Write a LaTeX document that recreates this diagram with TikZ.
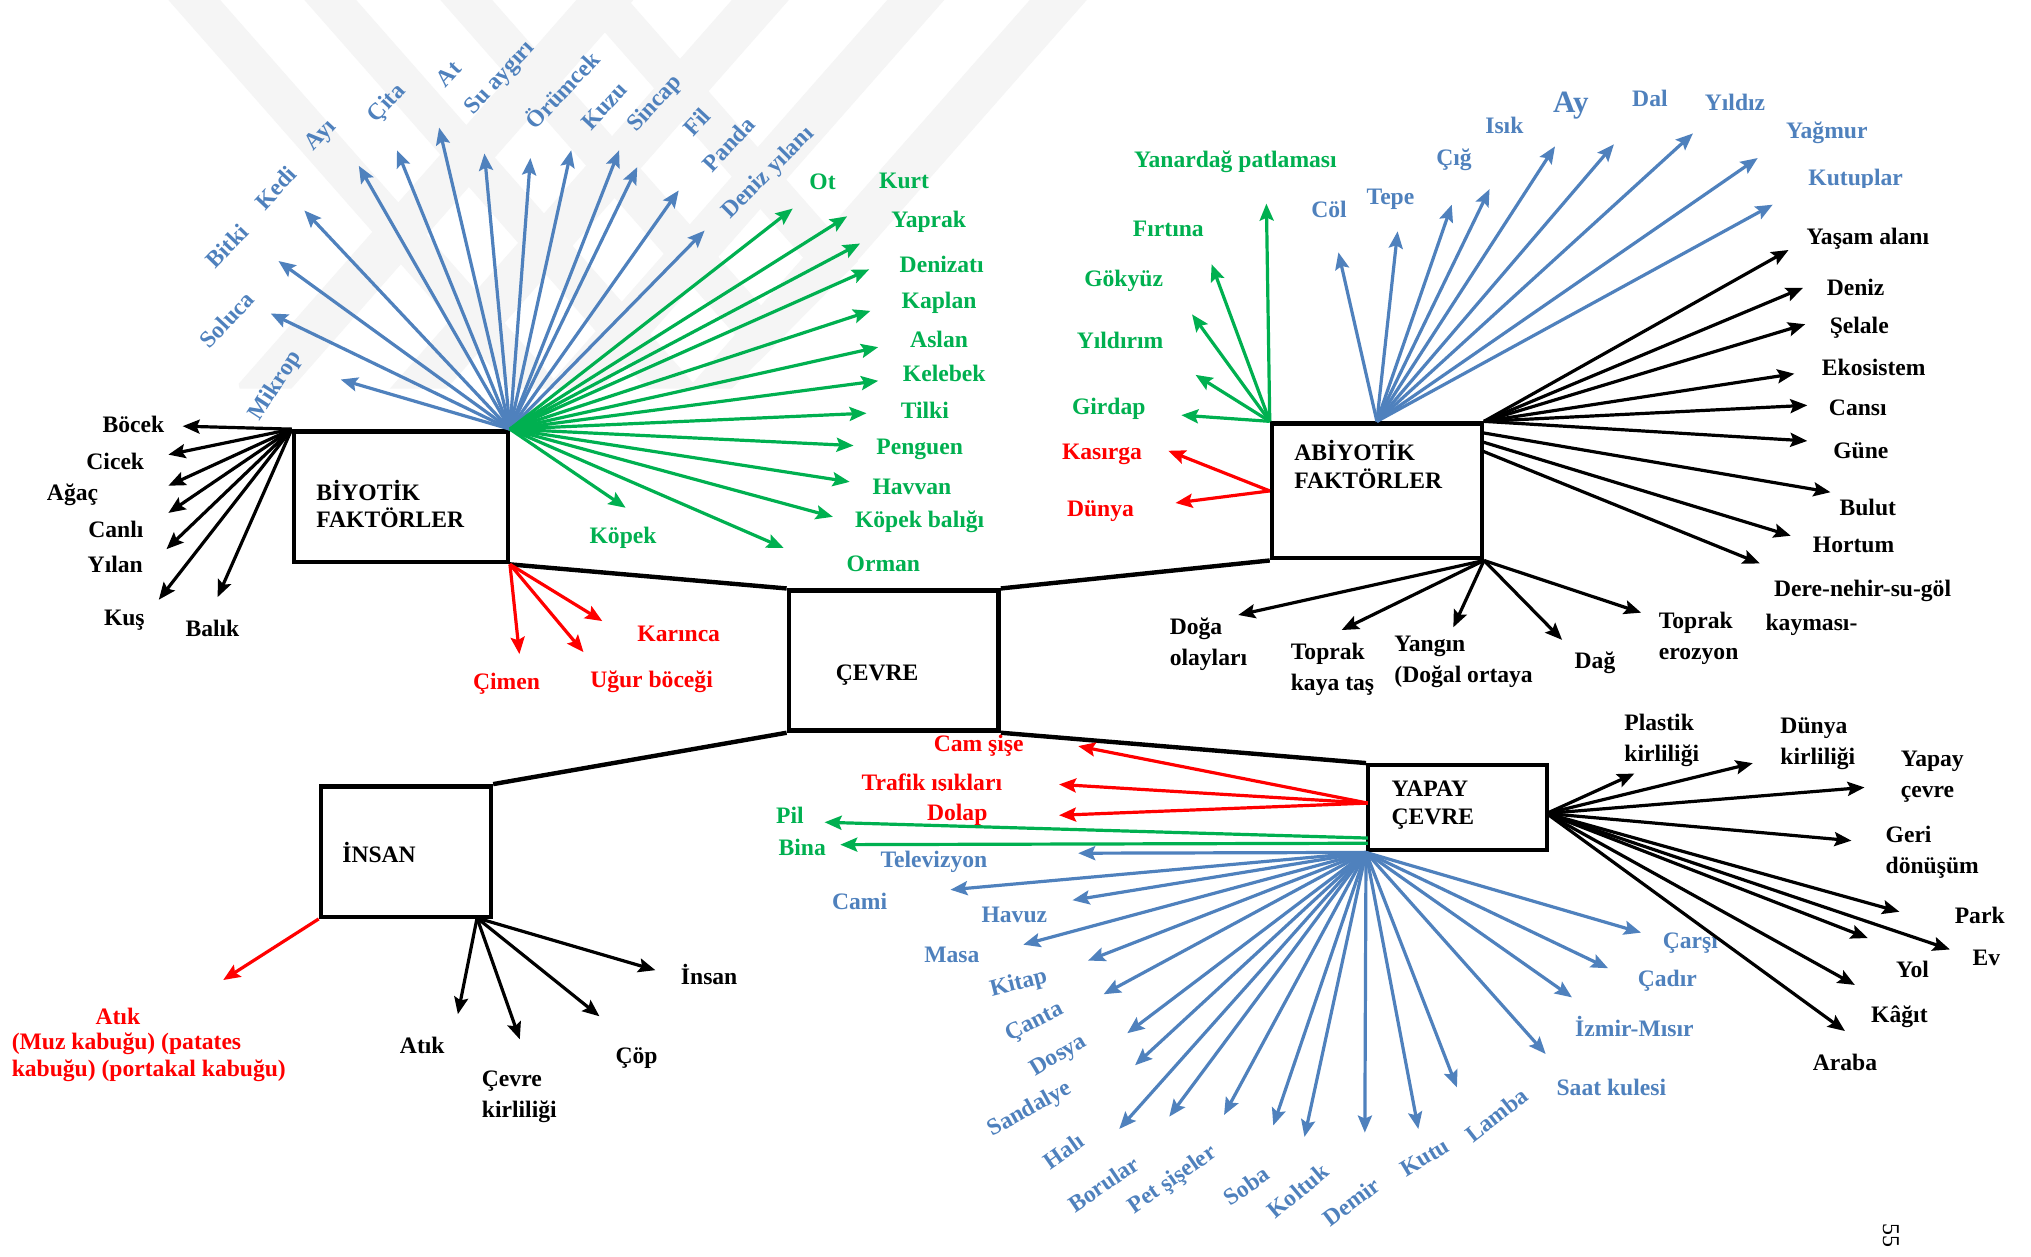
\documentclass[tikz,border=0pt]{standalone}
\usepackage{fontspec}
\setmainfont{Liberation Serif}
\usetikzlibrary{arrows.meta}
\definecolor{cblue}{HTML}{4F81BD}
\definecolor{cgreen}{HTML}{00B050}
\definecolor{cred}{HTML}{FF0000}
\newcommand\U{0.6477pt}
\newcommand\lblfont{\bfseries\fontsize{11.8}{15.5}\selectfont}
\newcommand\boxfont{\bfseries\fontsize{11.8}{13.8}\selectfont}
\tikzset{
  wm/.style={fill=gray!8},
  box/.style={draw=black, line width=2.2pt, inner sep=0pt},
  boxtxt/.style={font=\boxfont, align=left, inner sep=0pt, anchor=west},
  link/.style={draw=black, line width=2.2pt},
  arr/.style={line width=1.6pt, -{Stealth[length=8.5pt,width=7pt,inset=1.5pt]}},
  lbl/.style={font=\lblfont, inner sep=0.5pt},
  lbl2/.style={font=\lblfont, inner sep=0.5pt, align=left, anchor=west},
}
\begin{document}
\begin{tikzpicture}[x=0.6477pt, y=-0.6477pt]
\fill[white] (0,0) rectangle (1568,970);
\useasboundingbox (0,0) rectangle (1568,970);

% faint chevron watermark
\begin{scope}
  \clip (125,0) -- (862,0) -- (565,300) -- (185,300) -- cycle;
  \foreach \s in {130,235,340,445}
    \fill[wm] (\s,0) -- ++(40,0) -- ++(264,300) -- ++(-40,0) -- cycle;
  \foreach \s in {445,565,685,795}
    \fill[wm] (\s,0) -- ++(44,0) -- ++(-264,300) -- ++(-44,0) -- cycle;
\end{scope}

% main boxes
\node[box, minimum width=165*\U, minimum height=101*\U] (bio) at (309.5,383.5) {};
\node[boxtxt] (biot) at (244,389) {BİYOTİK\\FAKTÖRLER};
\node[box, minimum width=162*\U, minimum height=108*\U] (cev) at (690,510) {};
\node[boxtxt] (cevt) at (645,521) {ÇEVRE};
\node[box, minimum width=162*\U, minimum height=104*\U] (abio) at (1063,379) {};
\node[boxtxt] (abiot) at (999,358.5) {ABİYOTİK\\FAKTÖRLER};
\node[box, minimum width=138*\U, minimum height=65.6*\U] (yap) at (1125.3,623.6) {};
\node[boxtxt] (yapt) at (1074,621.5) {YAPAY\\ÇEVRE};
\node[box, minimum width=131.3*\U, minimum height=100.7*\U] (ins) at (313.4,657.4) {};
\node[boxtxt] (inst) at (264,658) {İNSAN};

% links between the boxes
\draw[link] (bio.south east) -- (cev.north west);
\draw[link] (cev.north east) -- (abio.south west);
\draw[link] (cev.south east) -- (yap.north west);
\draw[link] (cev.south west) -- (ins.north east);

% ---------- BİYOTİK FAKTÖRLER ----------
\foreach \tx/\ty/\lx/\ly/\t [count=\i] in {
  141/329/103/328/Böcek, 130/351/89/356/Cicek, 130/375/56/382/Ağaç,
  130/396/89.5/409/Canlı, 128.5/424/89/436/Yılan, 122.6/463/96/479/Kuş,
  168/461/164/485/Balık}{
  \coordinate (bk\i) at (\tx,\ty);
  \draw[arr, black] (bio.north west) -- (bk\i);
  \node[lbl] (bkl\i) at (\lx,\ly) {\t};
}
\foreach \tx/\ty/\lx/\ly/\r/\t [count=\i] in {
  263/293/213/298/57/Mikrop, 209/242/175/247/47/Soluca, 215/201.5/175/190/46/Bitki,
  235/162.5/213/145/47/Kedi, 277/128/248/105/47/Ayı, 306.5/116/299/80/47/Çita,
  339/98.5/346.5/57/47/At, 374/118.5/386.3/60.5/47/Su aygırı,
  409.5/122/433.5/69/47/Örümcek, 441/116/466.6/81.8/47/Kuzu,
  478/116/505.8/80.3/47/Sincap, 492/129/538/94/47/Fil,
  524/147/562.6/111.2/47/Panda, 544/178/593.3/133.8/45/Deniz yılanı}{
  \coordinate (bb\i) at (\tx,\ty);
  \draw[arr, cblue] (bio.north east) -- (bb\i);
  \node[lbl, text=cblue, rotate=\r] (bbl\i) at (\lx,\ly) {\t};
}
\foreach \tx/\ty/\lx/\ly/\t [count=\i] in {
  612/161/635/140/Ot, 654/167/698/140/Kurt, 664/188/717/171/Yaprak,
  671/208/727/204/Denizatı, 672/240/725/234/Kaplan, 678/268/725/262/Aslan,
  678/294/729/288/Kelebek, 669/319/714/317/Tilki, 659/344/710/347/Penguen,
  656/372/704/376/Havvan, 643/399/710/403/Köpek balığı, 605/423/682/435/Orman,
  483/392/481/415/Köpek}{
  \coordinate (bg\i) at (\tx,\ty);
  \draw[arr, cgreen] (bio.north east) -- (bg\i);
  \node[lbl, text=cgreen] (bgl\i) at (\lx,\ly) {\t};
}
\foreach \tx/\ty/\lx/\ly/\t [count=\i] in {
  401/505/391/528/Çimen, 450.5/503.5/503/526/Uğur böceği, 465/479.5/524/489/Karınca}{
  \coordinate (br\i) at (\tx,\ty);
  \draw[arr, cred] (bio.south east) -- (br\i);
  \node[lbl, text=cred] (brl\i) at (\lx,\ly) {\t};
}

% ---------- ABİYOTİK FAKTÖRLER ----------
\foreach \tx/\ty/\lx/\ly/\t [count=\i] in {
  977.7/157.2/953.8/125/Yanardağ patlaması, 935.4/204/902/176.4/Fırtına,
  920.3/242.7/867.5/216.7/Gökyüz, 923/289.4/864.7/262.5/Yıldırım,
  912/320.5/856/315.9/Girdap}{
  \coordinate (ag\i) at (\tx,\ty);
  \draw[arr, cgreen] (abio.north west) -- (ag\i);
  \node[lbl, text=cgreen] (agl\i) at (\lx,\ly) {\t};
}
\foreach \tx/\ty/\lx/\ly/\t [count=\i] in {
  902/348/850.8/350.5/Kasırga, 907.5/388.3/849.6/394.4/Dünya}{
  \coordinate (ar\i) at (\tx,\ty);
  \draw[arr, cred] (abio.west) -- (ar\i);
  \node[lbl, text=cred] (arl\i) at (\lx,\ly) {\t};
}
\foreach \tx/\ty [count=\i] in {
  1033.3/194.8, 1079/178.6, 1120.8/158, 1150/146, 1200.5/113,
  1246/111.4, 1307/103, 1357/122, 1368.6/158}{
  \coordinate (ab\i) at (\tx,\ty);
  \draw[arr, cblue] (abio.north) -- (ab\i);
}
\begin{scope}
  \clip (990,140) rectangle (1039.5,185);
  \node[lbl, text=cblue] (abl1) at (1026,161.8) {Cöl};
\end{scope}
\foreach \lx/\ly/\t [count=\i from 2] in {
  1073.5/154/Tepe, 1122.6/123.6/Çığ, 1161.4/97/Isık,
  1273.8/75.7/Dal, 1339.5/78.7/Yıldız, 1410.4/102.3/Yağmur}{
  \node[lbl, text=cblue] (abl\i) at (\lx,\ly) {\t};
}
\node[lbl, text=cblue, font=\bfseries\fontsize{15.5}{18}\selectfont] (ablay) at (1212.7,81.8) {Ay};
\begin{scope}
  \clip (1380,120) rectangle (1490,144.5);
  \node[lbl, text=cblue] (ablku) at (1432.6,138.9) {Kutuplar};
\end{scope}

\coordinate (abE1) at (1144,334);
\coordinate (abE2) at (1144,341);
\coordinate (abE3) at (1144,348);
\foreach \tx/\ty/\lx/\ly/\t [count=\i] in {
  1380.8/193/1442/184.6/Yaşam alanı, 1392/222.2/1432.6/222.2/Deniz,
  1393.7/250.3/1435.4/253.4/Şelale, 1385.3/288.5/1446.6/283.9/Ekosistem,
  1395.3/312.9/1434.3/315/Cansı, 1395.3/340.4/1436.6/348/Güne}{
  \coordinate (ak\i) at (\tx,\ty);
  \draw[arr, black] (abio.north east) -- (ak\i);
  \node[lbl] (akl\i) at (\lx,\ly) {\t};
}
\coordinate (ak7) at (1413.2,380);
\coordinate (ak8) at (1382.5,413.6);
\coordinate (ak9) at (1358.6,435);
\draw[arr, black] (abE1) -- (ak7);
\draw[arr, black] (abE2) -- (ak8);
\draw[arr, black] (abE3) -- (ak9);
\node[lbl] (akl7) at (1442,391.4) {Bulut};
\node[lbl] (akl8) at (1431,420.7) {Hortum};
\node[lbl2] (akl9) at (1368.6,456.3) {Dere-nehir-su-göl};
\node[lbl2] (akl9b) at (1362,482.6) {kayması-};

\foreach \tx/\ty [count=\i] in {
  956/474.8, 1035.8/486.4, 1122/484.3, 1206/494, 1267/473}{
  \coordinate (as\i) at (\tx,\ty);
  \draw[arr, black] (abio.south east) -- (as\i);
}
\node[lbl2] (asl1) at (902,497.5) {Doğa\\olayları};
\node[lbl2] (asl2) at (995.5,516.5) {Toprak\\kaya taş};
\node[lbl2] (asl3) at (1075.5,511) {Yangın\\(Doğal ortaya};
\node[lbl] (asl4) at (1231.4,511.7) {Dağ};
\node[lbl2] (asl5) at (1279.6,493) {Toprak\\erozyon};

% ---------- YAPAY ÇEVRE ----------
\coordinate (yR) at (1056,620);
\coordinate (yG1) at (1056,647);
\coordinate (yG2) at (1056,651);
\coordinate (yK) at (1194,628);
\foreach \tx/\ty/\lx/\ly/\t [count=\i] in {
  832.4/576/755.6/575.5/Cam şişe, 817.6/629.4/739/629.4/Dolap}{
  \coordinate (yr\i) at (\tx,\ty);
  \draw[arr, cred] (yR) -- (yr\i);
  \node[lbl, text=cred] (yrl\i) at (\lx,\ly) {\t};
}
\coordinate (yr3) at (817.6,605.6);
\draw[arr, cred] (yR) -- (yr3);
\begin{scope}
  \clip (650,590) rectangle (810,610.5);
  \node[lbl, text=cred] (yrl3) at (719.4,606) {Trafik ışıkları};
\end{scope}
\coordinate (yg1) at (636.6,634.8);
\coordinate (yg2) at (648.7,652.1);
\draw[arr, cgreen] (yG1) -- (yg1);
\draw[arr, cgreen] (yG2) -- (yg2);
\node[lbl, text=cgreen] (ygl1) at (609.8,629.4) {Pil};
\node[lbl, text=cgreen] (ygl2) at (619.4,654) {Bina};

\foreach \tx/\ty/\lx/\ly/\r/\t [count=\i] in {
  832.4/658.7/721/665/0/Televizyon, 733.8/686.9/663.6/695.9/0/Cami,
  828/695/783.1/706.6/0/Havuz, 790/729.3/734.9/737.5/0/Masa,
  840/741.6/786.5/759.4/14/Kitap, 852/767.6/798.7/789.6/27/Çanta,
  870.3/797.7/817.6/815.6/31/Dosya, 876.3/822.4/795.2/856.6/29/Sandalye,
  864.1/871.6/821/888.6/35/Halı, 902.7/862.1/852.1/914.1/34/Borular,
  945/860.8/905.4/911.3/35/Pet şişeler, 983/868.9/962.3/915.5/35/Soba,
  1007.1/877.7/1002/919.5/40/Koltuk, 1053.7/874.4/1043.3/927.8/37/Demir,
  1095/871.6/1100/893.5/31/Kutu, 1124.8/839.5/1155.3/860.5/38/Lamba,
  1193.3/813.7/1244/839.5/0/Saat kulesi, 1213.6/770/1261.8/792.7/0/İzmir-Mısır,
  1241.5/747.5/1287.2/757.2/0/Çadır, 1266.9/720/1305/728/0/Çarşı}{
  \coordinate (yb\i) at (\tx,\ty);
  \draw[arr, cblue] (yap.south west) -- (yb\i);
  \node[lbl, text=cblue, rotate=\r] (ybl\i) at (\lx,\ly) {\t};
}

\foreach \tx/\ty [count=\i] in {
  1261.8/597.2, 1353.2/589.2, 1439.5/607.9, 1429.4/649, 1466.4/703.9,
  1505.4/733, 1442/724.2, 1432/760.4, 1424.4/796}{
  \coordinate (yk\i) at (\tx,\ty);
  \draw[arr, black] (yK) -- (yk\i);
}
\node[lbl2] (ykl1) at (1253,572) {Plastik\\kirliliği};
\node[lbl2] (ykl2) at (1373.5,574.4) {Dünya\\kirliliği};
\node[lbl2] (ykl3) at (1466.4,599.4) {Yapay\\çevre};
\node[lbl2] (ykl4) at (1454.7,658) {Geri\\dönüşüm};
\node[lbl] (ykl5) at (1528.4,707) {Park};
\node[lbl] (ykl6) at (1533.5,739.4) {Ev};
\node[lbl] (ykl7) at (1476.6,748.1) {Yol};
\node[lbl] (ykl8) at (1466.4,784.6) {Kâğıt};
\node[lbl] (ykl9) at (1424.4,820.1) {Araba};

% ---------- İNSAN ----------
\coordinate (ir1) at (172.3,756.6);
\draw[arr, cred] (ins.south west) -- (ir1);
\node[lbl, text=cred] (irl1) at (91,784.6) {Atık};
\node[lbl2, text=cred, font=\bfseries\fontsize{11.8}{13.6}\selectfont] (irl2) at (8,816) {(Muz kabuğu) (patates\\kabuğu) (portakal kabuğu)};

\coordinate (iK) at (368.3,708.7);
\foreach \tx/\ty [count=\i] in {353.5/783, 401.3/802.4, 462.8/784.6, 506/749}{
  \coordinate (ik\i) at (\tx,\ty);
  \draw[arr, black] (iK) -- (ik\i);
}
\node[lbl] (ikl1) at (326,807.2) {Atık};
\node[lbl2] (ikl2) at (371,847) {Çevre\\kirliliği};
\node[lbl] (ikl3) at (491.4,817) {Çöp};
\node[lbl] (ikl4) at (547.5,752.3) {İnsan};

% page number
\node[font=\fontsize{12}{14}\selectfont, rotate=-90, inner sep=0pt] (pgno) at (1459.8,954.2) {55};
\end{tikzpicture}
\end{document}
